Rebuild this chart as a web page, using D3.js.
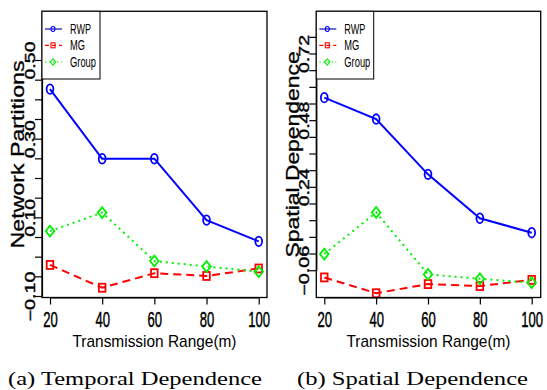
<!DOCTYPE html>
<html>
<head>
<meta charset="utf-8">
<script src="https://cdnjs.cloudflare.com/ajax/libs/d3/7.8.5/d3.min.js"></script>
<style>
  body { margin: 0; background: #fff; }
  text { font-family: "Liberation Sans", Arial, sans-serif; }
</style>
</head>
<body>
<svg id="chart" width="547" height="390"></svg>
<script>
// Data
var ranges = [20, 40, 60, 80, 100];

var tempRWP = [0.426, 0.249, 0.249, 0.093, 0.039];
var tempMG = [-0.021, -0.079, -0.042, -0.049, -0.030];
var tempGroup = [0.065, 0.112, -0.011, -0.025, -0.038];

var spatRWP = [0.561, 0.484, 0.285, 0.127, 0.075];
var spatMG = [-0.086, -0.143, -0.110, -0.117, -0.095];
var spatGroup = [-0.002, 0.148, -0.075, -0.091, -0.105];

var tempTicks = [-0.10, -0.05, 0.00, 0.05, 0.10, 0.15, 0.20, 0.25, 0.30, 0.35, 0.40, 0.45, 0.50];
var tempLabels = [-0.10, 0.10, 0.30, 0.50];
var spatTicks = [-0.06, 0.00, 0.06, 0.12, 0.18, 0.24, 0.30, 0.36, 0.42, 0.48, 0.54, 0.60, 0.66, 0.72, 0.78];
var spatLabels = [-0.06, 0.24, 0.48, 0.72];

var seriesNames = ["RWP", "MG", "Group"];

var svg = d3.select("#chart");

// one panel per dependence metric
var panels = [
  {
    box: { left: 42, right: 267, top: 11.3, bottom: 297.5 },
    xRange: [50, 258.7],
    yDomain: [-0.10, 0.50], yRange: [296, 60],
    ticks: tempTicks, labels: tempLabels,
    series: [tempRWP, tempMG, tempGroup],
    ylab: "Network Partitions", ylabX: 23.5, ylabLen: 188,
    legend: { left: 42, right: 100, bottom: 79 },
    caption: "(a) Temporal Dependence", capX: 135, capLen: 254
  },
  {
    box: { left: 316.3, right: 540.7, top: 11.3, bottom: 297.5 },
    xRange: [324.3, 531.7],
    yDomain: [-0.06, 0.72], yRange: [270.2, 53.5],
    ticks: spatTicks, labels: spatLabels,
    series: [spatRWP, spatMG, spatGroup],
    ylab: "Spatial Dependence", ylabX: 298.5, ylabLen: 206,
    legend: { left: 316.3, right: 373.7, bottom: 79 },
    caption: "(b) Spatial Dependence", capX: 412.5, capLen: 231
  }
];

var styles = [
  { color: "#0000ff", dash: null, shape: "circle" },
  { color: "#ff0000", dash: "8,5", shape: "square" },
  { color: "#00f000", dash: "2,4", shape: "diamond" }
];

// draw a marker at (cx, cy), half width hw and half height hh
function marker(g, shape, cx, cy, hw, hh, color, sw) {
  if (shape === "circle") {
    g.append("ellipse")
      .attr("cx", cx).attr("cy", cy).attr("rx", hw).attr("ry", hh)
      .attr("fill", "none").attr("stroke", color).attr("stroke-width", sw);
  } else if (shape === "square") {
    g.append("rect")
      .attr("x", cx - hw).attr("y", cy - hh)
      .attr("width", hw * 2).attr("height", hh * 2)
      .attr("fill", "none").attr("stroke", color).attr("stroke-width", sw);
  } else {
    g.append("path")
      .attr("d", `M${cx},${cy - hh}L${cx + hw},${cy}L${cx},${cy + hh}L${cx - hw},${cy}Z`)
      .attr("fill", "none").attr("stroke", color).attr("stroke-width", sw);
  }
}

panels.forEach(function(p) {
  var x = d3.scaleLinear().domain([20, 100]).range(p.xRange);
  var y = d3.scaleLinear().domain(p.yDomain).range(p.yRange);
  var g = svg.append("g");

  // lines and markers
  p.series.forEach(function(vals, i) {
    var st = styles[i];
    var line = d3.line()
      .x((d, j) => x(ranges[j]))
      .y(d => y(d));
    g.append("path")
      .datum(vals)
      .attr("d", line)
      .attr("fill", "none")
      .attr("stroke", st.color)
      .attr("stroke-width", 2)
      .attr("stroke-dasharray", st.dash);
    var hw = st.shape === "diamond" ? 4.3 : (st.shape === "square" ? 3.3 : 3.4);
    var hh = st.shape === "diamond" ? 5.4 : (st.shape === "square" ? 4 : 4.8);
    vals.forEach(function(v, j) {
      marker(g, st.shape, x(ranges[j]), y(v), hw, hh, st.color, 1.8);
    });
  });

  // box
  g.append("rect")
    .attr("x", p.box.left).attr("y", p.box.top)
    .attr("width", p.box.right - p.box.left)
    .attr("height", p.box.bottom - p.box.top)
    .attr("fill", "none").attr("stroke", "#000").attr("stroke-width", 1.3);

  // x axis, digits squeezed sideways like the source image
  var xAxis = g.append("g")
    .attr("transform", `translate(0, ${p.box.bottom})`)
    .call(d3.axisBottom(x).tickValues(ranges).tickSize(7).tickSizeOuter(0));
  xAxis.selectAll("line, path").attr("stroke-width", 1.2);
  xAxis.selectAll("text")
    .attr("y", null)
    .attr("dy", null)
    .attr("transform", "translate(0, 29.5) scale(0.58, 1)")
    .attr("fill", "#000")
    .attr("stroke", "#000")
    .attr("stroke-width", 0.5)
    .attr("font-size", 22.5);

  // y axis, labels rotated like R's default
  var yAxis = g.append("g")
    .attr("transform", `translate(${p.box.left}, 0)`)
    .call(d3.axisLeft(y).tickValues(p.ticks).tickSize(7).tickSizeOuter(0)
      .tickFormat(d => p.labels.some(l => Math.abs(l - d) < 1e-9) ? d3.format(".2f")(d) : ""));
  yAxis.selectAll("line, path").attr("stroke-width", 1.2);
  yAxis.selectAll("text")
    .attr("x", null)
    .attr("dy", null)
    .attr("transform", "translate(-7, 0) rotate(-90)")
    .attr("text-anchor", "middle")
    .attr("fill", "#000")
    .attr("stroke", "#000")
    .attr("stroke-width", 0.4)
    .attr("font-size", 14.5)
    .attr("textLength", d => d < 0 ? 50 : 38)
    .attr("lengthAdjust", "spacingAndGlyphs");

  // axis titles
  var cx = (p.box.left + p.box.right) / 2;
  var cy = (p.box.top + p.box.bottom) / 2;
  g.append("text")
    .attr("x", cx).attr("y", 347)
    .attr("text-anchor", "middle")
    .attr("font-size", 17)
    .attr("textLength", 164)
    .attr("lengthAdjust", "spacingAndGlyphs")
    .text("Transmission Range(m)");
  g.append("text")
    .attr("transform", `translate(${p.ylabX}, ${cy}) rotate(-90)`)
    .attr("text-anchor", "middle")
    .attr("font-size", 18)
    .attr("stroke", "#000")
    .attr("stroke-width", 0.3)
    .attr("textLength", p.ylabLen)
    .attr("lengthAdjust", "spacingAndGlyphs")
    .text(p.ylab);

  // legend
  var lg = g.append("g");
  lg.append("rect")
    .attr("x", p.legend.left).attr("y", p.box.top)
    .attr("width", p.legend.right - p.legend.left)
    .attr("height", p.legend.bottom - p.box.top)
    .attr("fill", "#fff").attr("stroke", "#000").attr("stroke-width", 1);
  var legY = [29, 45.3, 62];
  var legW = [21, 15, 26];
  seriesNames.forEach(function(name, i) {
    var st = styles[i];
    var lx = p.legend.left;
    lg.append("line")
      .attr("x1", lx + 3).attr("x2", lx + 20)
      .attr("y1", legY[i]).attr("y2", legY[i])
      .attr("stroke", i === 0 ? "#1010b0" : st.color)
      .attr("stroke-width", 1.2)
      .attr("stroke-dasharray", st.dash ? (i === 1 ? "4,3" : "1.5,2.5") : null);
    marker(lg, st.shape, lx + 11, legY[i], i === 2 ? 2.6 : 2, i === 2 ? 3.2 : 2.5, st.color, 1.1);
    lg.append("text")
      .attr("x", lx + 28).attr("y", legY[i] + 5)
      .attr("font-size", 14)
      .attr("textLength", legW[i])
      .attr("lengthAdjust", "spacingAndGlyphs")
      .text(name);
  });

  // sub caption
  svg.append("text")
    .attr("x", p.capX).attr("y", 385)
    .attr("text-anchor", "middle")
    .style("font-family", "'Liberation Serif', 'DejaVu Serif', serif")
    .attr("font-size", 18)
    .attr("textLength", p.capLen)
    .attr("lengthAdjust", "spacingAndGlyphs")
    .text(p.caption);
});
</script>
</body>
</html>
